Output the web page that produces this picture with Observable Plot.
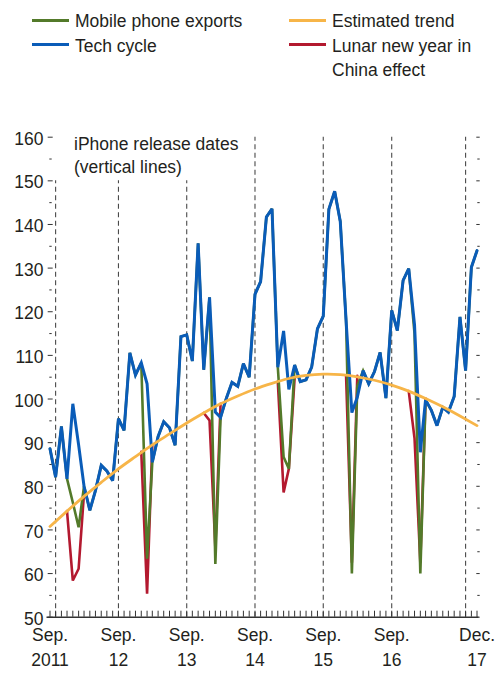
<!DOCTYPE html>
<html><head><meta charset="utf-8">
<script src="https://cdn.jsdelivr.net/npm/d3@7"></script>
<script src="https://cdn.jsdelivr.net/npm/@observablehq/plot@0.6"></script>
<style>
body{margin:0;background:#fff;}
#wrap{position:relative;width:495px;height:675px;font-family:"Liberation Sans",Arial,sans-serif;color:#231f20;font-size:17.5px;overflow:hidden;}
#chart{position:absolute;left:0;top:0;}
.sw{position:absolute;height:3px;width:37px;}
.lt{position:absolute;line-height:24px;white-space:nowrap;}
.note{position:absolute;left:74px;top:133.4px;line-height:22.5px;white-space:nowrap;}
</style></head><body>
<div id="wrap">
<div id="chart"></div>
<div class="sw" style="left:32px;top:18.5px;background:#537a2a"></div>
<div class="lt" style="left:75px;top:9.2px">Mobile phone exports</div>
<div class="sw" style="left:32px;top:42.5px;background:#0a5cb8"></div>
<div class="lt" style="left:75px;top:33.6px">Tech cycle</div>
<div class="sw" style="left:289px;top:18.5px;background:#f7b548"></div>
<div class="lt" style="left:332px;top:9.2px">Estimated trend</div>
<div class="sw" style="left:289px;top:42.5px;background:#b3192f"></div>
<div class="lt" style="left:332px;top:33.6px">Lunar new year in<br>China effect</div>
<div class="note">iPhone release dates<br>(vertical lines)</div>
</div>
<script>
// Monthly series, Sep 2011 (index 0) to Dec 2017 (index 75)
const techCycle = [88.6,82.1,93.7,81.7,98.9,89.5,80.0,74.5,79.0,84.8,
  83.5,81.3,95.5,92.8,110.6,105.5,108.3,103.5,85.5,91.4,
  94.8,93.4,89.4,114.3,114.7,108.7,135.7,106.7,123.3,97.0,
  95.8,100.2,103.8,102.9,108.1,105.0,124.0,126.9,141.7,143.6,
  107.3,115.6,102.2,107.8,104.0,104.4,107.3,116.1,119.0,143.5,
  147.6,140.7,118.0,96.9,100.4,106.5,103.5,106.3,110.7,100.2,
  120.3,115.7,127.2,129.9,117.0,87.8,99.8,97.4,93.9,98.1,
  97.0,100.6,118.8,106.5,130.2,134.0];
const mobileExports = [88.6,82.1,93.7,81.7,76.3,70.6,80.0,74.5,79.0,84.8,
  83.5,81.3,95.5,92.8,110.6,105.5,108.3,63.4,85.5,91.4,
  94.8,93.4,89.4,114.3,114.7,108.7,135.7,106.7,123.3,62.2,
  95.8,100.2,103.8,102.9,108.1,105.0,124.0,126.9,141.7,143.6,
  107.3,86.7,84.0,107.8,104.0,104.4,107.3,116.1,119.0,143.5,
  147.6,140.7,118.0,60.0,103.0,106.5,103.5,106.3,110.7,100.2,
  120.3,115.7,127.2,129.9,115.0,60.0,99.8,97.4,93.9,98.1,
  97.0,100.6,118.8,106.5,130.2,134.0];
const lunarEffect = [null,null,null,74.3,58.4,61.1,78.5,null,null,null,
  null,null,null,null,null,null,87.9,55.4,89.5,null,
  null,null,null,null,null,null,null,96.8,95.1,66.0,
  98.9,null,null,null,null,null,null,null,null,null,
  104.0,78.6,84.0,104.9,null,null,null,null,null,null,
  null,null,105.4,62.5,105.3,null,null,null,null,null,
  null,null,null,101.8,91.0,62.5,100.1,null,null,null,
  null,null,null,null,null,null];
// Estimated trend, every 3 months from Sep 2011
const trendStep = 3;
const trend = [70.8,74.3,77.7,80.9,84.0,86.8,89.5,92.0,94.5,96.8,98.9,100.7,102.3,
  103.6,104.7,105.4,105.7,105.6,105.1,104.3,103.2,101.8,100.1,98.2,96.1,93.9];
// iPhone release months (vertical dashed lines) and their tops
const releaseMonths = ["2011-10","2012-09","2013-09","2014-09","2015-09","2016-09","2017-10"];
const releaseTops = [150,150,150,160,160,160,160];
// x tick labels
const xLabelMonths = ["2011-09","2012-09","2013-09","2014-09","2015-09","2016-09","2017-12"];
const xLabels = ["Sep.\n2011","Sep.\n12","Sep.\n13","Sep.\n14","Sep.\n15","Sep.\n16","Dec.\n17"];
const yMajor = [50,60,70,80,90,100,110,120,130,140,150,160];
const yMinor = [55,65,75,85,95,105,115,125,135,145,155];

const BLUE = "#0a5cb8", GREEN = "#537a2a", RED = "#b3192f", ORANGE = "#f7b548";
const month = i => new Date(Date.UTC(2011, 8 + i, 1));
const parse = d3.utcParse("%Y-%m");
const rows = techCycle.map((v, i) => ({date: month(i), tech: v, mobile: mobileExports[i], lunar: lunarEffect[i]}));
const trendRows = trend.map((v, k) => ({date: month(k * trendStep), v}));
const releases = releaseMonths.map((m, i) => ({date: parse(m), top: releaseTops[i]}));
const labelRows = xLabelMonths.map((m, i) => ({date: parse(m), label: xLabels[i]}));
const allMonths = techCycle.map((v, i) => month(i));

const chart = Plot.plot({
  width: 495, height: 675,
  marginTop: 136.7, marginBottom: 58.3, marginLeft: 49.5, marginRight: 18.5,
  x: {type: "utc", domain: [month(0), month(75)], axis: null},
  y: {domain: [50, 160], axis: null},
  style: {fontFamily: '"Liberation Sans", Arial, sans-serif', fontSize: "17.5px", color: "#231f20", background: "white", overflow: "visible"},
  marks: [
    Plot.ruleX(releases, {x: "date", y1: 50, y2: "top", stroke: "#4a4a4a", strokeWidth: 1.1, strokeDasharray: "5,3.5"}),
    Plot.line(rows, {x: "date", y: "lunar", stroke: RED, strokeWidth: 2.6, strokeLinejoin: "miter", strokeMiterlimit: 3}),
    Plot.line(rows, {x: "date", y: "mobile", stroke: GREEN, strokeWidth: 2.6, strokeLinejoin: "miter", strokeMiterlimit: 3}),
    Plot.line(rows, {x: "date", y: "tech", stroke: BLUE, strokeWidth: 3, strokeLinejoin: "miter", strokeMiterlimit: 3}),
    Plot.line(trendRows, {x: "date", y: "v", stroke: ORANGE, strokeWidth: 2.8, curve: "natural"}),
    Plot.ruleY([50], {stroke: "#333", strokeWidth: 1.6, insetLeft: -3, insetRight: -2}),
    Plot.axisX({ticks: allMonths, tickSize: 6, dy: -6, tickFormat: () => "", stroke: "#333"}),
    Plot.text(labelRows, {x: "date", text: "label", frameAnchor: "bottom", dy: 6.5, lineAnchor: "top", lineHeight: 1.43, textAnchor: "middle", fill: "#231f20"}),
    Plot.axisY({anchor: "left", ticks: yMajor, tickSize: 5, dx: 3.2, tickFormat: () => "", stroke: "#333"}),
    Plot.axisY({anchor: "left", ticks: yMinor, tickSize: 2.4, dx: 2.2, tickFormat: () => "", stroke: "#333"}),
    Plot.axisY({anchor: "left", ticks: yMajor, tickSize: 0, tickPadding: 6.5, dy: 2, fill: "#231f20"}),
    Plot.axisY({anchor: "right", ticks: yMajor, tickSize: 3.4, dx: -1.2, tickFormat: () => "", stroke: "#333"}),
    Plot.axisY({anchor: "right", ticks: yMinor, tickSize: 2.4, dx: -0.2, tickFormat: () => "", stroke: "#333"})
  ]
});
document.getElementById("chart").append(chart);
</script>
</body></html>
